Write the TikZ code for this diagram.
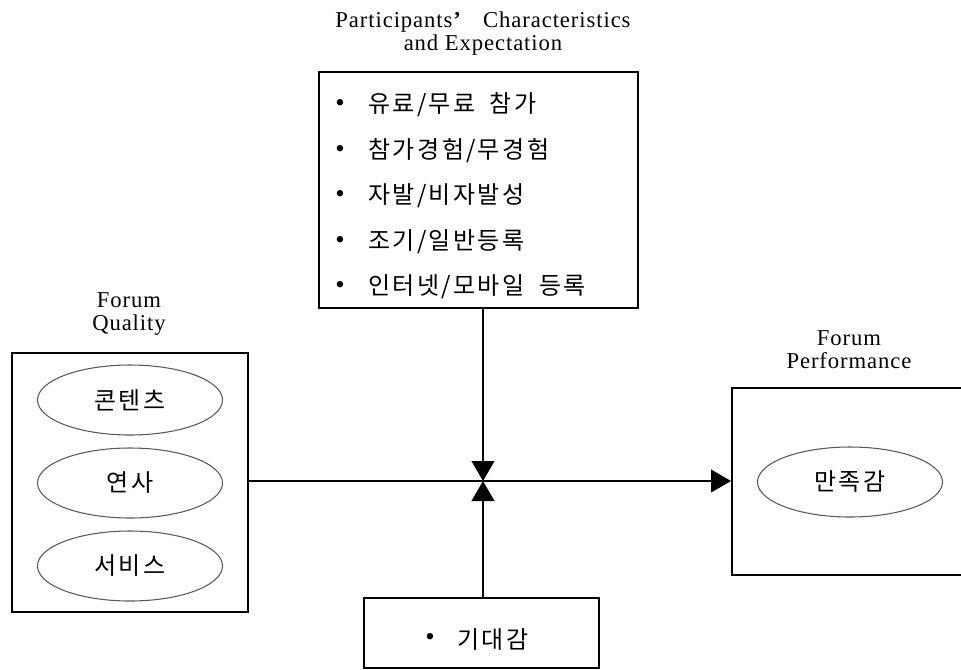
\documentclass[tikz,border=0pt]{standalone}
\usepackage{fontspec}
\setmainfont{Liberation Serif}[LetterSpace=4]
\newfontfamily\kr{Noto Sans CJK KR}[LetterSpace=11]
\usepackage{tikz}
\usetikzlibrary{arrows.meta,positioning,shapes.geometric,calc}

\newcommand{\sls}{\hspace{1.5pt}/\hspace{1.5pt}}

\tikzset{
  box/.style={draw, line width=1.5pt, inner sep=0pt},
  oval/.style={draw=black!65, line width=0.8pt, ellipse, minimum width=138.75pt, minimum height=52.5pt, inner sep=0pt, font=\kr\fontsize{18}{20}\selectfont},
  item/.style={anchor=west, inner sep=0pt, font=\kr\fontsize{18}{20}\selectfont},
  dot/.style={inner sep=0pt, font=\fontsize{20}{20}\selectfont},
  caption/.style={align=center, font=\fontsize{17}{17.25}\selectfont},
  arr/.style={line width=1.5pt, -{Triangle[length=15pt, width=17pt]}}
}

\begin{document}
\begin{tikzpicture}[x=0.75pt, y=-0.75pt]
            \useasboundingbox (0,0) rectangle (961,669);
            \clip (0,0) rectangle (961,669);

            % captions
            \node[caption] (cap_top) at (483,34) {Participants\textbf{’}\hspace{16pt}Characteristics\\and Expectation};
            \node[caption] (cap_qual) at (129,314) {Forum\\Quality};
            \node[caption] (cap_perf) at (849,350) {Forum\\Performance};

            % boxes
            \node[box, minimum width=239.25pt, minimum height=177pt] (chars) at (478.5,190) {};
            \node[box, minimum width=177pt, minimum height=194.25pt] (qual) at (130,482.5) {};
            \node[box, minimum width=210pt, minimum height=140.25pt] (perf) at (872,481.5) {};
            \node[box, minimum width=176.25pt, minimum height=52.5pt] (expect) at (481.5,633) {};

            % forum quality
            \node[oval] (contents) at (130,400) {콘텐츠};
            \node[oval] (speaker) at (130,483) {연사};
            \node[oval] (service) at (130,566) {서비스};

            % forum performance
            \node[oval] (satisf) at (850,482) {만족감};

            % participants
            \node[dot] (dot_a) at (340,105) {\textbullet};
            \node[item] (item_a) at (368,105) {유료\sls 무료\hspace{0.6em}참가};
            \node[dot] (dot_b) at (340,151) {\textbullet};
            \node[item] (item_b) at (368,151) {참가경험\sls 무경험};
            \node[dot] (dot_c) at (340,196) {\textbullet};
            \node[item] (item_c) at (368,196) {자발\sls 비자발성};
            \node[dot] (dot_d) at (340,242) {\textbullet};
            \node[item] (item_d) at (368,242) {조기\sls 일반등록};
            \node[dot] (dot_e) at (340,287) {\textbullet};
            \node[item] (item_e) at (368,287) {인터넷\sls 모바일\hspace{0.6em}등록};

            % expectation
            \node[dot] (dot_f) at (430,639) {\textbullet};
            \node[item] (item_f) at (457,639) {기대감};

            % connectors
            \coordinate (jn) at (483,481);
            \draw[arr] (qual.east |- jn) -- (perf.west |- jn);
            \draw[arr] (chars.south -| jn) -- (jn);
            \draw[arr] (expect.north -| jn) -- (jn);
      \end{tikzpicture}
\end{document}
